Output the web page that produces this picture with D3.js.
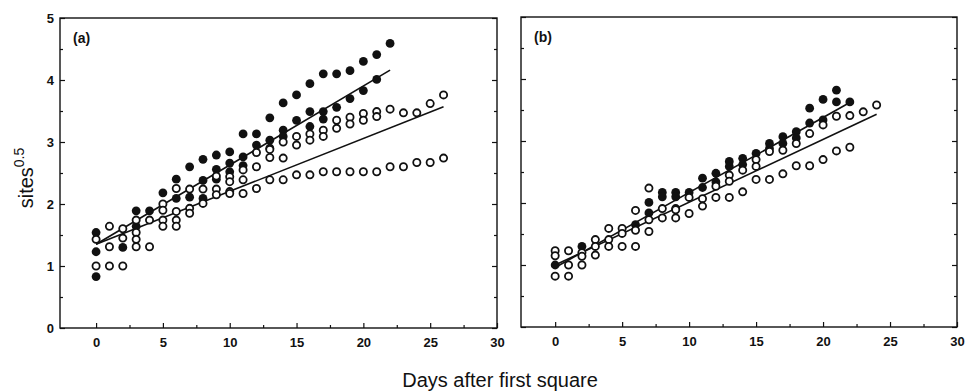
<!DOCTYPE html>
<html>
<head>
<meta charset="utf-8">
<script src="https://cdn.jsdelivr.net/npm/d3@7"></script>
<style>
  body { margin: 0; background: #fff; }
  svg { display: block; font-family: "Liberation Sans", Arial, sans-serif; }
  .tick text { font-size: 13px; font-weight: bold; fill: #111; }
  .tick line { stroke: #111; stroke-width: 1.2; }
</style>
</head>
<body>
<script>
// days after first square (index of every series below)
var days = [0, 1, 2, 3, 4, 5, 6, 7, 8, 9, 10, 11, 12, 13, 14, 15, 16, 17, 18, 19, 20, 21, 22, 23, 24, 25, 26];

// panel (a): filled symbols
var aFilled1 = [1.54, null, null, 1.89, 1.89, 2.18, 2.40, 2.60, 2.72, 2.79, 2.84, 3.13, 3.13, 3.39, 3.63, 3.76, 3.94, 4.10, 4.10, 4.15, 4.30, 4.41, 4.59];
var aFilled2 = [1.23, null, 1.30, 1.64, null, null, 2.09, 2.11, 2.38, 2.56, 2.66, 2.76, 2.95, 3.03, 3.19, 3.35, 3.49, 3.49, 3.56, 3.70, 3.83, 4.01];
var aFilled3 = [0.83, null, null, null, null, null, null, null, 2.09, 2.40, 2.52, 2.62, null, 2.90, 3.09, null, 3.25, 3.37];
// panel (a): open symbols
var aOpen1 = [1.43, 1.64, 1.60, 1.74, 1.74, 2.00, 2.25, 2.24, 2.24, 2.45, 2.44, 2.55, 2.83, 2.88, 3.00, 3.09, 3.13, 3.19, 3.35, 3.40, 3.46, 3.49, 3.53, 3.47, 3.47, 3.62, 3.76];
var aOpen2 = [null, null, 1.45, 1.54, null, 1.90, 1.88, 1.93, null, 2.24, 2.36, 2.39, 2.60, 2.75, 2.74, 2.95, 3.03, 3.09, 3.22, 3.29, 3.35, 3.41];
var aOpen3 = [1.00, 1.31, null, 1.43, null, 1.74, 1.74, 1.85, null, null, 2.20];
var aOpen4 = [null, 1.00, 1.00, 1.31, 1.31, 1.64, 1.64, null, 2.01, 2.15, 2.17, 2.17, 2.25, 2.39, 2.39, 2.47, 2.47, 2.52, 2.52, 2.52, 2.52, 2.52, 2.60, 2.60, 2.67, 2.67, 2.74];
// panel (a): fitted lines [day, value] at both ends
var aFitFilled = [[0, 1.35], [22, 4.16]];
var aFitOpen = [[0, 1.35], [26, 3.57]];

// panel (b): filled symbols
var bFilled1 = [1.00, null, 1.30, null, null, null, 1.65, 2.01, 2.17, 2.17, 2.17, 2.40, 2.48, 2.67, 2.72, 2.80, 2.96, 3.07, 3.15, 3.53, 3.67, 3.82];
var bFilled2 = [null, null, null, null, null, null, null, 1.84, 2.10, 2.10, null, 2.25, 2.34, 2.59, 2.62, null, 2.88, 2.96, 3.05, 3.29, 3.34, 3.63, 3.63];
// panel (b): open symbols
var bOpen1 = [1.23, 1.23, 1.20, 1.41, 1.59, 1.59, 1.88, 2.24, 1.91, 1.91, 2.09, 2.07, 2.27, 2.45, 2.53, 2.70, 2.83, 2.85, 2.96, 3.12, 3.26, 3.40, 3.41, 3.47, 3.58];
var bOpen2 = [1.15, 1.00, 1.14, 1.30, 1.41, 1.51, 1.56, 1.73, null, 1.89, null, null, null, 2.35, null, 2.59];
var bOpen3 = [0.82, 0.82, 1.00, 1.16, 1.30, 1.30, 1.30, 1.54, 1.76, 1.76, 1.83, 1.95, 2.09, 2.09, 2.18, 2.38, 2.38, 2.47, 2.60, 2.60, 2.70, 2.84, 2.90];
// panel (b): fitted lines
var bFitFilled = [[0, 0.96], [22, 3.62]];
var bFitOpen = [[0, 1.00], [24, 3.43]];

var yMajor = [0, 1, 2, 3, 4, 5];
var yMinor = [0.5, 1.5, 2.5, 3.5, 4.5];
var xMajor = [0, 5, 10, 15, 20, 25, 30];
var xMinor = [2.5, 7.5, 12.5, 17.5, 22.5, 27.5];

var panels = [
  {label: "(a)", left: 60, right: 497, top: 18, bottom: 328, xmin: -2.7, yLabels: true,
   filled: [aFilled1, aFilled2, aFilled3], open: [aOpen1, aOpen2, aOpen3, aOpen4], fits: [aFitFilled, aFitOpen]},
  {label: "(b)", left: 521, right: 957, top: 17, bottom: 327, xmin: -2.55, yLabels: false,
   filled: [bFilled1, bFilled2], open: [bOpen1, bOpen2, bOpen3], fits: [bFitFilled, bFitOpen]}
];

var svg = d3.select("body").append("svg")
    .attr("width", 965)
    .attr("height", 391);

panels.forEach(function(p) {
  var x = d3.scaleLinear().domain([p.xmin, 30]).range([p.left, p.right]);
  var y = d3.scaleLinear().domain([0, 5]).range([p.bottom, p.top]);
  var g = svg.append("g");

  function points(series) {
    return series.map(function(v, i) { return {d: days[i], v: v}; })
      .filter(function(o) { return o.v != null; });
  }

  // axes, ticks pointing inward
  var left = g.append("g").attr("transform", "translate(" + p.left + ",0)");
  left.call(d3.axisLeft(y).tickValues(yMajor).tickSize(-5).tickPadding(6)
      .tickFormat(p.yLabels ? d3.format("d") : ""));
  left.append("g").call(d3.axisLeft(y).tickValues(yMinor).tickSize(-3).tickFormat(""));

  var right = g.append("g").attr("transform", "translate(" + p.right + ",0)");
  right.call(d3.axisRight(y).tickValues(yMajor).tickSize(-5).tickFormat(""));
  right.append("g").call(d3.axisRight(y).tickValues(yMinor).tickSize(-3).tickFormat(""));

  var bottom = g.append("g").attr("transform", "translate(0," + p.bottom + ")");
  bottom.call(d3.axisBottom(x).tickValues(xMajor).tickSize(-5).tickPadding(10).tickFormat(d3.format("d")));
  bottom.append("g").call(d3.axisBottom(x).tickValues(xMinor).tickSize(-3).tickFormat(""));

  g.selectAll(".domain").remove();

  g.append("rect")
    .attr("x", p.left).attr("y", p.top)
    .attr("width", p.right - p.left).attr("height", p.bottom - p.top)
    .attr("fill", "none").attr("stroke", "#111").attr("stroke-width", 1.4);

  // fitted lines
  var line = d3.line().x(function(d) { return x(d[0]); }).y(function(d) { return y(d[1]); });
  g.selectAll("path.fit").data(p.fits).enter().append("path")
    .attr("class", "fit")
    .attr("d", line)
    .attr("fill", "none").attr("stroke", "#111").attr("stroke-width", 1.6);

  // symbols
  p.filled.forEach(function(s) {
    g.append("g").selectAll("circle").data(points(s)).enter().append("circle")
      .attr("cx", function(d) { return x(d.d); })
      .attr("cy", function(d) { return y(d.v); })
      .attr("r", 4.4)
      .attr("fill", "#111");
  });
  p.open.forEach(function(s) {
    g.append("g").selectAll("circle").data(points(s)).enter().append("circle")
      .attr("cx", function(d) { return x(d.d); })
      .attr("cy", function(d) { return y(d.v); })
      .attr("r", 3.6)
      .attr("fill", "#fff")
      .attr("stroke", "#111")
      .attr("stroke-width", 1.8);
  });

  g.append("text")
    .attr("x", p.left + 13).attr("y", p.top + 25)
    .attr("font-size", 14).attr("font-weight", "bold").attr("fill", "#111")
    .text(p.label);
});

// axis titles
var yt = svg.append("text")
    .attr("transform", "translate(33,178) rotate(-90)")
    .attr("text-anchor", "middle")
    .attr("font-size", 20).attr("fill", "#111");
yt.append("tspan").text("sites");
yt.append("tspan").attr("font-size", 14).attr("dy", -9).text("0.5");

svg.append("text")
    .attr("x", 500).attr("y", 387)
    .attr("text-anchor", "middle")
    .attr("font-size", 20).attr("fill", "#111")
    .text("Days after first square");
</script>
</body>
</html>
